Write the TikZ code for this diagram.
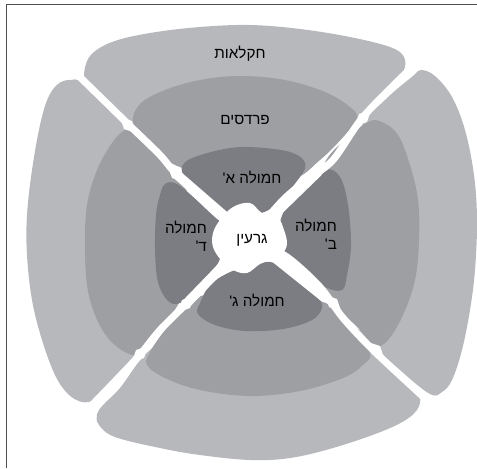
\documentclass[tikz,border=0pt]{standalone}
\usepackage{fontspec}
\newfontfamily\hebfont[Script=Hebrew]{Liberation Sans}
\TeXXeTstate=1
\usepackage{tikz}
\usetikzlibrary{positioning}
\usepackage{xcolor}
\definecolor{ringouter}{RGB}{182,184,187}
\definecolor{ringmid}{RGB}{157,159,163}
\definecolor{ringinner}{RGB}{124,125,130}
\definecolor{framegray}{RGB}{80,80,80}
\tikzset{
    outerpart/.style={fill=ringouter},
    midpart/.style={fill=ringmid},
    innerpart/.style={fill=ringinner},
    gapline/.style={draw=white, line width=6pt, line cap=round, line join=round},
    zonelabel/.style={font=\hebfont\fontsize{13}{15.5}\selectfont, text=black, inner sep=1pt},
}
% small white widening of a gap where two rings meet
\newcommand{\flareA}[2]{\fill[white] (#1-8,#2-8) -- (#1+4,#2-4) -- (#1+8,#2+8) -- (#1-4,#2+4) -- cycle;}
\newcommand{\flareB}[2]{\fill[white] (#1+8,#2-8) -- (#1+4,#2+4) -- (#1-8,#2+8) -- (#1-4,#2-4) -- cycle;}

\begin{document}
\begin{tikzpicture}[x=0.03cm, y=-0.03cm]
    \useasboundingbox (0,0) rectangle (477,468);
    \draw[framegray, line width=0.8pt] (6,468) -- (6,4) -- (477,4);

    % outer ring
    \fill[outerpart] plot[smooth cycle, tension=0.6] coordinates {(84,76) (90,56) (112,42) (150,33) (200,27) (250,25) (300,29) (350,37) (390,47) (404,57) (403,72) (385,93) (360,118) (300,140) (200,140) (135,128) (105,100) (90,86)};
    \fill[outerpart] plot[smooth cycle, tension=0.6] coordinates {(413,76) (421,70) (435,76) (452,97) (465,130) (474,175) (477,220) (475,270) (470,310) (462,350) (452,380) (442,392) (430,394) (400,370) (370,340) (355,280) (350,200) (360,130) (385,100)};
    \fill[outerpart] plot[smooth cycle, tension=0.6] coordinates {(104,404) (97,414) (99,425) (115,437) (160,448) (200,455) (250,460) (290,458) (333,448) (383,431) (410,417) (420,403) (415,390) (390,362) (360,330) (300,320) (200,320) (150,350) (120,388)};
    \fill[outerpart] plot[smooth cycle, tension=0.6] coordinates {(58,84) (70,80) (84,84) (125,122) (160,175) (165,240) (160,300) (140,352) (105,392) (95,400) (82,402) (68,394) (55,375) (42,340) (32,300) (27,255) (27,215) (32,170) (40,125) (48,98)};

    % middle ring
    \fill[midpart] plot[smooth cycle, tension=0.6] coordinates {(133,124) (140,104) (165,90) (200,80) (240,76) (285,80) (325,92) (350,107) (357,118) (345,135) (320,160) (290,180) (230,180) (175,165) (150,143)};
    \fill[midpart] plot[smooth cycle, tension=0.6] coordinates {(368,122) (382,122) (398,135) (410,165) (418,200) (419,240) (415,280) (403,315) (388,340) (375,346) (360,330) (335,303) (310,260) (305,210) (325,162) (345,140)};
    \fill[midpart] plot[smooth cycle, tension=0.6] coordinates {(150,352) (147,365) (165,378) (200,390) (250,396) (300,391) (343,378) (363,365) (370,353) (350,330) (320,300) (250,290) (190,300) (165,330)};
    \fill[midpart] plot[smooth cycle, tension=0.6] coordinates {(125,130) (137,130) (160,155) (185,185) (190,240) (185,290) (160,330) (138,353) (125,352) (108,338) (95,315) (87,285) (85,245) (87,205) (97,170) (112,143)};

    % inner ring
    \fill[innerpart] plot[smooth cycle, tension=0.6] coordinates {(182,172) (190,159) (230,148) (265,148) (293,153) (305,163) (300,177) (272,208) (245,215) (218,212) (197,188)};
    \fill[innerpart] plot[smooth cycle, tension=0.6] coordinates {(325,170) (340,177) (348,205) (351,245) (347,275) (342,290) (325,287) (300,270) (282,250) (280,222) (297,190)};
    \fill[innerpart] plot[smooth cycle, tension=0.6] coordinates {(200,303) (198,314) (215,325) (245,331) (283,329) (312,320) (322,308) (318,298) (295,275) (270,262) (240,268) (212,283)};
    \fill[innerpart] plot[smooth cycle, tension=0.6] coordinates {(165,184) (177,184) (200,203) (220,222) (222,245) (217,265) (195,290) (180,303) (168,301) (158,282) (155,250) (156,215) (160,195)};

    % gaps between the parts
    \draw[gapline] plot[smooth, tension=0.5] coordinates {(60,58) (87,84) (127,123) (160,155) (177,175) (218,215) (250,238)};
    \draw[gapline] plot[smooth, tension=0.5] coordinates {(250,238) (287,257) (320,287) (343,318) (373,350) (418,392) (440,412)};
    \draw[gapline] plot[smooth, tension=0.5] coordinates {(250,238) (283,200) (307,180) (333,160) (363,117) (407,72) (425,55)};
    \draw[gapline] plot[smooth, tension=0.5] coordinates {(250,238) (222,265) (190,300) (160,330) (137,358) (95,402) (75,423)};
    \draw[gapline, line width=8pt] (175,173) -- (250,238) -- (325,298);
    \draw[gapline, line width=8pt] (318,172) -- (250,238) -- (185,305);
    \flareA{128}{125} \flareA{176}{174} \flareA{333}{303} \flareA{376}{350}
    \flareB{363}{118} \flareB{318}{170} \flareB{186}{304} \flareB{140}{354}

    % core
    \fill[white] plot[smooth cycle, tension=0.6] coordinates {(233,207) (250,203) (262,213) (277,216) (284,230) (287,244) (282,254) (272,260) (260,264) (247,273) (233,270) (221,260) (213,247) (213,233) (220,220)};

    % labels
    \node[zonelabel] (agri) at (240,54) {\beginR חקלאות\endR};
    \node[zonelabel] (orchard) at (245,120) {\beginR פרדסים\endR};
    \node[zonelabel] (clanA) at (252,177) {\beginR חמולה א'\endR};
    \node[zonelabel, align=right] (clanB) at (316,234) {\beginR חמולה\endR\\\beginR ב'\endR};
    \node[zonelabel] (core) at (252,240) {\beginR גרעין\endR};
    \node[zonelabel] (clanC) at (257,300) {\beginR חמולה ג'\endR};
    \node[zonelabel, align=right] (clanD) at (186,236) {\beginR חמולה\endR\\\beginR ד'\endR};
\end{tikzpicture}
\end{document}
